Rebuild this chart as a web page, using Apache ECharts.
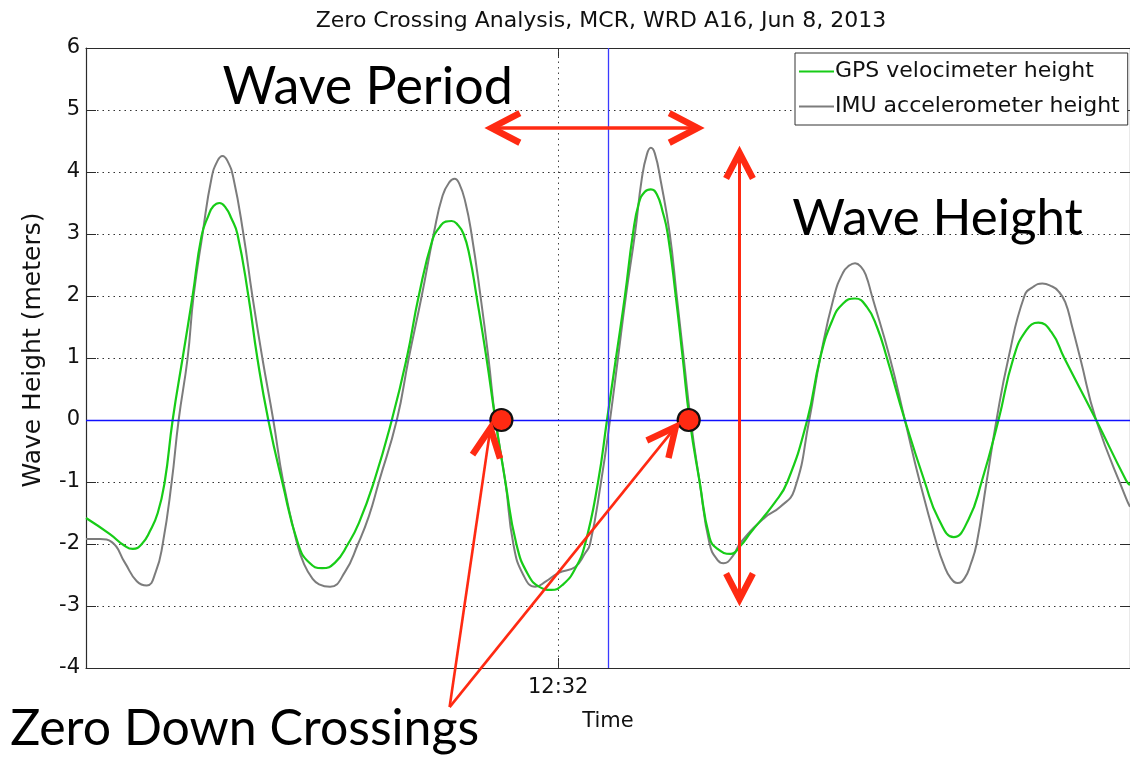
<!DOCTYPE html>
<html><head><meta charset="utf-8">
<script src="https://cdn.jsdelivr.net/npm/echarts@6/dist/echarts.min.js"></script>
<style>html,body{margin:0;padding:0;background:#fff}#c{width:1130px;height:759px}</style>
</head><body><div id="c"></div>
<script>
// ---- data (time in seconds relative to 12:32:00, height in metres) ----
const gpsT = [-23.7,-22.5,-21.8,-21.35,-20.9,-20.5,-20.1,-19.75,-19.35,-18.85,-18.35,
  -17.9,-17.55,-17.3,-17.0,-16.7,-16.4,-16.1,-15.55,-15.1,-14.55,
  -13.85,-13.05,-12.5,-11.85,-11.2,-10.55,-10.0,-9.25,-8.35,-7.6,
  -7.0,-6.3,-5.95,-5.65,-5.35,-5.05,-4.75,-4.45,-4.1,-3.6,
  -3.15,-2.65,-2.1,-1.5,-0.9,-0.35,0.25,0.85,1.35,2.0,
  2.45,2.9,3.35,3.75,4.05,4.35,4.65,4.95,5.25,5.5,
  5.9,6.25,6.6,7.1,7.6,8.0,8.65,9.15,9.65,10.85,
  11.5,12.5,13.15,13.75,14.3,14.9,15.5,16.0,16.5,17.4,
  18.4,19.1,19.85,20.6,21.25,22.1,22.85,23.5,24.1,24.75,
  25.4,27.0,28.5,28.7];
const gpsH = [-1.58,-1.84,-2.02,-2.08,-2.0,-1.8,-1.5,-1,0,1,2,
  2.97,3.3,3.45,3.5,3.43,3.25,3,2,1,0,
  -1,-2,-2.3,-2.39,-2.3,-2,-1.66,-1,0,1,
  2,2.92,3.11,3.2,3.21,3.15,3.0,2.65,2,1,
  0,-1,-2,-2.5,-2.7,-2.74,-2.65,-2.4,-2,-1,
  0,1,2,3,3.5,3.68,3.72,3.64,3.35,3,
  2,1,0,-1,-1.9,-2.08,-2.16,-2.03,-1.82,-1.34,
  -1,0,1,1.6,1.88,1.96,1.82,1.5,1,0,
  -1,-1.6,-1.89,-1.6,-1,0,1,1.45,1.57,1.42,
  1,0,-0.97,-1.05];
const imuT = [-23.7,-23.0,-22.4,-21.75,-21.15,-20.65,-20.2,-19.85,-19.4,-19.05,
  -18.6,-18.3,-17.85,-17.4,-17.1,-16.85,-16.6,-16.3,-15.8,-15.35,
  -14.85,-14.3,-13.8,-13.1,-12.75,-12.35,-12.0,-11.45,-10.7,-10.05,
  -9.5,-9.0,-8.1,-7.5,-6.85,-6.25,-5.8,-5.45,-5.2,-4.95,
  -4.65,-4.35,-3.9,-3.5,-3.15,-2.65,-2.25,-1.75,-1.15,-0.6,
  0,0.85,1.35,1.6,2.15,2.6,3.0,3.4,3.85,4.2,
  4.45,4.65,4.85,5.15,5.6,5.95,6.3,6.65,7.1,7.6,
  8.0,8.3,8.75,9.15,10.35,11.15,11.85,12.6,13.15,13.85,
  14.3,14.6,14.9,15.2,15.45,15.75,16.65,17.4,18.15,19.0,
  19.35,19.7,20.05,20.4,20.7,21.0,21.5,22.0,22.6,23.4,
  23.85,24.3,24.75,25.1,25.45,25.8,26.2,27.0,28.5,28.7];
const imuH = [-1.92,-1.92,-1.97,-2.3,-2.6,-2.67,-2.45,-2,-1,0,
  1,2,3,3.9,4.18,4.26,4.18,3.9,3,2,
  1,0,-1,-2,-2.33,-2.55,-2.65,-2.69,-2.45,-2,
  -1.55,-1,0,1,2,3,3.62,3.84,3.89,3.8,
  3.5,3.0,2,1,0,-1,-2,-2.5,-2.69,-2.6,
  -2.47,-2.37,-2.15,-2,-1,0,1,2,3,3.9,
  4.28,4.39,4.3,3.85,3,2,1,0,-1,-2.0,
  -2.26,-2.31,-2.2,-1.98,-1.58,-1.4,-1.13,0,1,2,
  2.38,2.49,2.53,2.47,2.33,2,1,0,-1,-2,
  -2.33,-2.55,-2.63,-2.55,-2.33,-2,-1,0,1,2,
  2.15,2.2,2.16,2.08,1.9,1.5,1.0,0,-1.26,-1.4];
const crossT = [-2.85, 6.55];          // zero down-crossings
const crossH = [0, 0];
const xTickValues = [0];
const xTickLabels = ['12:32'];
const seriesNames = ['GPS velocimeter height', 'IMU accelerometer height'];
const titleText = 'Zero Crossing Analysis, MCR, WRD A16, Jun 8, 2013';
const refTime = 2.5;                   // blue vertical reference line
// annotations (data coordinates)
const periodArrow = [[-3.35, 4.71], [7.0, 4.71]];
const heightArrow = [[9.1, 4.31], [9.1, -2.89]];
const pointerApex = [-5.45, -4.63];
const pointerTips = [[-3.4, -0.13], [5.9, -0.11]];
const annoTexts = [
  {text: 'Wave Period', at: [-16.85, 4.94], size: 52},
  {text: 'Wave Height', at: [11.75, 2.83], size: 51},
  {text: 'Zero Down Crossings', at: [-27.5, -5.38], size: 50}
];

const zip = (a, b) => a.map((v, i) => [v, b[i]]);
const AX = '#2b2b2b';
const F = 'DejaVu Sans';
const RED = '#ff2a12';

const chart = echarts.init(document.getElementById('c'));
const xCommon = {type: 'value', min: -23.7, max: 28.7,
  axisLine: {show: true, onZero: false, lineStyle: {color: AX, width: 1.2}},
  splitLine: {show: false}};
const yCommon = {type: 'value', min: -4, max: 6, interval: 1,
  axisLine: {show: true, onZero: false, lineStyle: {color: AX, width: 1.2}}};

chart.setOption({
  animation: false,
  backgroundColor: '#fff',
  title: {text: titleText, left: 596, textAlign: 'center', top: 5,
    textStyle: {fontFamily: F, fontWeight: 'normal', fontSize: 22, color: '#111'}},
  grid: {left: 86, top: 48, right: -4, bottom: 91},
  legend: {data: seriesNames, orient: 'vertical', left: 795, top: 53, icon: 'rect',
    itemWidth: 35, itemHeight: 2, itemGap: 10, padding: [6, 8, 6, 4],
    borderColor: '#333', borderWidth: 1, backgroundColor: '#fff',
    textStyle: {fontFamily: F, fontSize: 22, color: '#111', padding: [0, 0, 0, -4], lineHeight: 25}},
  xAxis: [
    Object.assign({}, xCommon, {position: 'bottom', name: 'Time', nameLocation: 'middle', nameGap: 43,
      nameTextStyle: {fontFamily: F, fontSize: 21, color: '#111'},
      axisTick: {show: true, inside: true, length: 10, customValues: xTickValues, lineStyle: {color: AX}},
      axisLabel: {customValues: xTickValues, margin: 9, fontFamily: F, fontSize: 21, color: '#111',
        formatter: v => xTickLabels[xTickValues.indexOf(v)] || ''}}),
    Object.assign({}, xCommon, {position: 'top',
      axisTick: {show: true, inside: true, length: 10, customValues: xTickValues, lineStyle: {color: AX}},
      axisLabel: {show: false}})
  ],
  yAxis: [
    Object.assign({}, yCommon, {position: 'left', name: 'Wave Height (meters)', nameLocation: 'middle', nameGap: 40,
      nameTextStyle: {fontFamily: F, fontSize: 25, color: '#111', padding: [0, 0, 0, 16]},
      axisTick: {show: true, inside: true, length: 10, lineStyle: {color: AX}},
      axisLabel: {margin: 6, fontFamily: F, fontSize: 21, color: '#111'},
      splitLine: {show: true, lineStyle: {color: '#333', type: [1.5, 4], width: 1}}}),
    Object.assign({}, yCommon, {position: 'right',
      axisTick: {show: true, inside: true, length: 10, lineStyle: {color: AX}},
      axisLabel: {show: false}, splitLine: {show: false}})
  ],
  series: [
    {type: 'line', name: 'refs', data: [], z: 1, silent: true,
      markLine: {silent: true, symbol: 'none', animation: false, label: {show: false},
        data: [
          {xAxis: 0, lineStyle: {color: '#444', type: [1.5, 4], width: 1}},
          {yAxis: 0, lineStyle: {color: '#1010ff', type: 'solid', width: 1.3}},
          {xAxis: refTime, lineStyle: {color: '#3a3aff', type: 'solid', width: 1.3}}
        ]}},
    {type: 'line', name: seriesNames[0], data: zip(gpsT, gpsH), smooth: 0.5, symbol: 'none', showSymbol: false,
      z: 3, lineStyle: {color: '#17cc17', width: 2.2}, itemStyle: {color: '#17cc17'}},
    {type: 'line', name: seriesNames[1], data: zip(imuT, imuH), smooth: 0.5, symbol: 'none', showSymbol: false,
      z: 2, lineStyle: {color: '#7c7c7c', width: 2}, itemStyle: {color: '#7c7c7c'}},
    {type: 'scatter', name: 'crossings', data: zip(crossT, crossH), symbolSize: 22, z: 5,
      itemStyle: {color: RED, borderColor: '#111', borderWidth: 2.2, opacity: 1}}
  ]
});

// ---- annotations placed through the chart's own scales ----
const px = p => chart.convertToPixel({xAxisIndex: 0, yAxisIndex: 0}, p);
function head(tip, from, L, ang) {
  const dx = from[0] - tip[0], dy = from[1] - tip[1];
  const n = Math.hypot(dx, dy), ux = dx / n, uy = dy / n;
  const r = a => [tip[0] + L * (ux * Math.cos(a) - uy * Math.sin(a)), tip[1] + L * (ux * Math.sin(a) + uy * Math.cos(a))];
  return {type: 'polyline', shape: {points: [r(ang), tip, r(-ang)]},
    style: {stroke: RED, lineWidth: 6.5, fill: null, lineJoin: 'miter', lineCap: 'butt'}, z: 20};
}
const g = [];
const a1 = px(periodArrow[0]), a2 = px(periodArrow[1]);
g.push({type: 'line', shape: {x1: a1[0], y1: a1[1], x2: a2[0], y2: a2[1]}, style: {stroke: RED, lineWidth: 3.5}, z: 20});
g.push(head(a1, a2, 32, 0.48), head(a2, a1, 32, 0.48));
const h1 = px(heightArrow[0]), h2 = px(heightArrow[1]);
g.push({type: 'line', shape: {x1: h1[0], y1: h1[1], x2: h2[0], y2: h2[1]}, style: {stroke: RED, lineWidth: 3}, z: 20});
g.push(head(h1, h2, 29, 0.48), head(h2, h1, 29, 0.48));
const ap = px(pointerApex);
pointerTips.forEach(t => {
  const tp = px(t);
  g.push({type: 'line', shape: {x1: ap[0], y1: ap[1], x2: tp[0], y2: tp[1]}, style: {stroke: RED, lineWidth: 2.6}, z: 20});
  g.push(head(tp, ap, 32, 0.45));
});
annoTexts.forEach(a => {
  const p = px(a.at);
  g.push({type: 'text', x: p[0], y: p[1], z: 21,
    style: {text: a.text, fill: '#000', font: a.size + 'px Lato', textAlign: 'left', textVerticalAlign: 'bottom'}});
});
chart.setOption({graphic: g});
</script></body></html>
